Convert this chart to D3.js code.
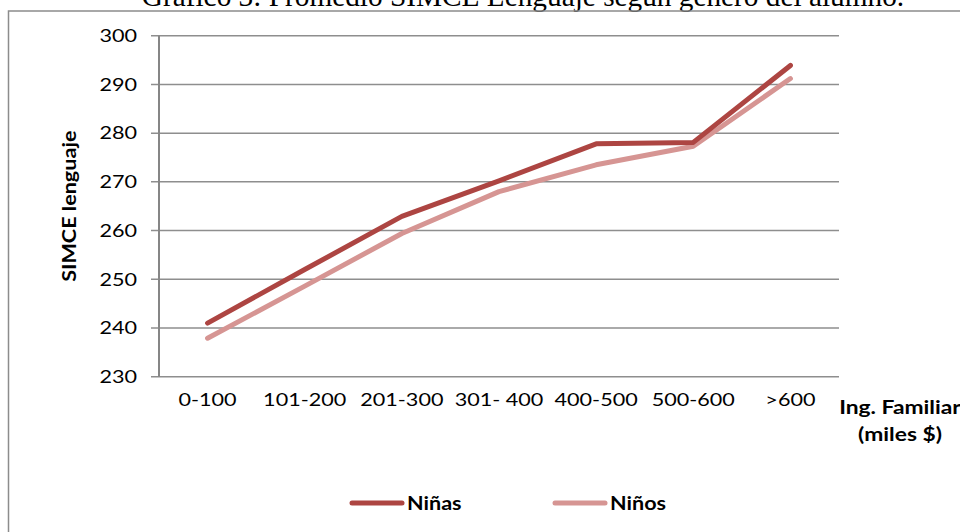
<!DOCTYPE html>
<html>
<head>
<meta charset="utf-8">
<script src="https://cdn.jsdelivr.net/npm/d3@7"></script>
<style>
  html, body { margin: 0; padding: 0; background: #fff; }
  svg { display: block; }
</style>
</head>
<body>
<svg id="chart" width="960" height="532"></svg>
<script>
const categories = ["0-100", "101-200", "201-300", "301- 400", "400-500", "500-600", ">600"];
const ninas = [241.0, 252.0, 262.9, 270.2, 277.8, 278.1, 293.9];
const ninos = [237.9, 248.6, 259.4, 268.0, 273.5, 277.3, 291.2];
const yTicks = [230, 240, 250, 260, 270, 280, 290, 300];
const seriesNames = ["Niñas", "Niños"];
const seriesColors = ["#AD4542", "#D69593"];
const titleText = "Gráfico 3: Promedio SIMCE Lenguaje según género del alumno.";
const yTitle = "SIMCE lenguaje";
const xTitle = ["Ing. Familiar", "(miles $)"];

const svg = d3.select("#chart");
const pLeft = 159, pRight = 839, pTop = 35.7, pBottom = 376.7;
const font = "Lato, 'Open Sans', sans-serif";
const sx = 1.2; // horizontal stretch of the sans text

// title (clipped at top, as in the reference)
svg.append("text")
  .attr("x", 523).attr("y", 6)
  .attr("text-anchor", "middle")
  .style("font-family", "'Liberation Serif', 'Times New Roman', serif")
  .style("font-size", "29.3px")
  .attr("fill", "#000")
  .text(titleText);

// outer chart border
svg.append("rect")
  .attr("x", 8.5).attr("y", 11)
  .attr("width", 1000).attr("height", 600)
  .attr("fill", "none")
  .attr("stroke", "#8c8c8c")
  .attr("stroke-width", 1.5);

const x = d3.scaleBand().domain(categories).range([pLeft, pRight]);
const y = d3.scaleLinear().domain([230, 300]).range([pBottom, pTop]);

// gridlines
svg.append("g").selectAll("line").data(yTicks).join("line")
  .attr("x1", pLeft - 8).attr("x2", pRight)
  .attr("y1", d => y(d)).attr("y2", d => y(d))
  .attr("stroke", "#8e8e8e").attr("stroke-width", 1.5);

// y axis line
svg.append("line")
  .attr("x1", pLeft).attr("x2", pLeft)
  .attr("y1", pTop).attr("y2", pBottom)
  .attr("stroke", "#868686").attr("stroke-width", 2);

// y axis labels via d3 axis
const yAxis = svg.append("g")
  .attr("transform", `translate(${pLeft},0)`)
  .call(d3.axisLeft(y).tickValues(yTicks).tickSize(0).tickPadding(22));
yAxis.select(".domain").remove();
yAxis.selectAll("text")
  .attr("x", -22 / sx)
  .attr("transform", `scale(${sx},1)`)
  .style("font-family", font).style("font-size", "18px").attr("fill", "#000");

// x axis labels
const xAxis = svg.append("g")
  .attr("transform", `translate(0,${pBottom})`)
  .call(d3.axisBottom(x).tickSize(0).tickPadding(17));
xAxis.select(".domain").remove();
xAxis.selectAll("text")
  .attr("transform", `scale(${sx},1)`)
  .style("font-family", font).style("font-size", "18px").attr("fill", "#000");

// y title
svg.append("text")
  .attr("transform", `translate(76,${(pTop + pBottom) / 2}) rotate(-90) scale(${sx},1)`)
  .attr("text-anchor", "middle")
  .style("font-family", font).style("font-size", "18px").style("font-weight", "bold")
  .text(yTitle);

// x title
[[xTitle[0], 414], [xTitle[1], 441]].forEach(([t, yy]) => {
  svg.append("text")
    .attr("transform", `translate(900,${yy}) scale(${sx},1)`)
    .attr("text-anchor", "middle")
    .style("font-family", font).style("font-size", "19px").style("font-weight", "bold")
    .text(t);
});

// lines
const line = d3.line()
  .x((d, i) => x(categories[i]) + x.bandwidth() / 2)
  .y(d => y(d));
[[ninos, 1], [ninas, 0]].forEach(([s, idx]) => {
  svg.append("path")
    .datum(s)
    .attr("d", line)
    .attr("fill", "none")
    .attr("stroke", seriesColors[idx])
    .attr("stroke-width", 5)
    .attr("stroke-linejoin", "round")
    .attr("stroke-linecap", "round");
});

// legend
const legendX = [352, 555];
seriesNames.forEach((name, i) => {
  const g = svg.append("g").attr("transform", `translate(${legendX[i]},503)`);
  g.append("line").attr("x1", 0).attr("x2", 50).attr("y1", 0).attr("y2", 0)
    .attr("stroke", seriesColors[i]).attr("stroke-width", 5).attr("stroke-linecap", "round");
  g.append("text").attr("transform", `translate(55,7) scale(${sx},1)`)
    .style("font-family", font).style("font-size", "18px").style("font-weight", "bold")
    .text(name);
});
</script>
</body>
</html>
